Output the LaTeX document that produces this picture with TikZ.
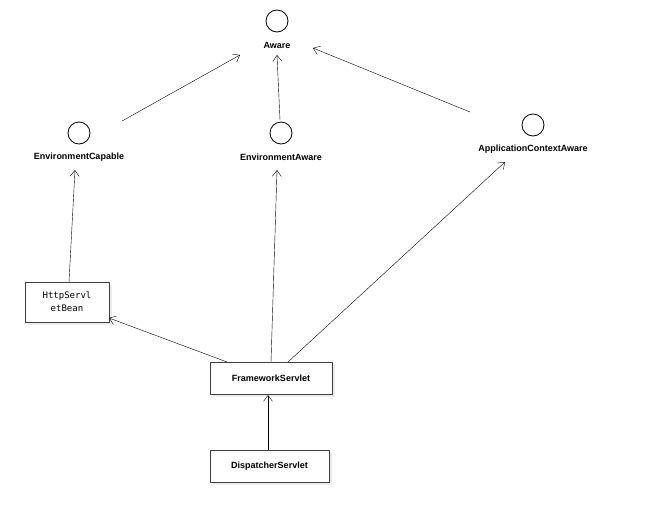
\documentclass[tikz,border=0pt]{standalone}
\usepackage{fontspec}
\setmainfont{Liberation Sans}
\newfontfamily\monof{DejaVu Sans Mono}
\usetikzlibrary{arrows.meta,shadows}
\begin{document}
\begin{tikzpicture}[x=1pt,y=-1pt,
 iface/.style={circle,draw,thick,minimum size=22pt,inner sep=0pt},
 lbl/.style={font=\bfseries\fontsize{9}{10}\selectfont,inner sep=1pt},
 cls/.style={draw,thick,draw=black!75,fill=white,drop shadow={shadow xshift=3pt,shadow yshift=-3pt,fill=black!8,opacity=1},inner sep=0pt},
 arr/.style={-{Straight Barb[length=6pt,width=9pt]},thin}]
\useasboundingbox (0,0) rectangle (656,522);
\node[iface] (aw) at (277,21) {};
\node[lbl] (awl) at (277,45) {Aware};
\node[iface] (ec) at (79,133) {};
\node[lbl] (ecl) at (79,157) {EnvironmentCapable};
\node[iface] (ea) at (281,133) {};
\node[lbl] (eal) at (281,157) {EnvironmentAware};
\node[iface] (ac) at (533,125) {};
\node[lbl] (acl) at (533,149) {ApplicationContextAware};
\node[cls,minimum width=84pt,minimum height=40pt,align=center,font=\monof\fontsize{9}{13}\selectfont] (hb) at (67,302) {HttpServl\\etBean};
\node[cls,minimum width=122pt,minimum height=32pt,font=\bfseries\fontsize{9}{10}\selectfont] (fs) at (271,378) {FrameworkServlet};
\node[cls,minimum width=119pt,minimum height=32pt,font=\bfseries\fontsize{9}{10}\selectfont] (ds) at (269.5,466) {DispatcherServlet};
\coordinate (a1) at (122,121); \coordinate (a1e) at (240,55);
\coordinate (a2) at (280,120); \coordinate (a2e) at (277,55);
\coordinate (a3) at (470,112); \coordinate (a3e) at (313,48);
\draw[arr] (a1) -- (a1e);
\draw[arr] (a2) -- (a2e);
\draw[arr] (a3) -- (a3e);
\draw[arr] (hb.north -| 69,0) ++(0,0) coordinate (h1) (69,282) -- (75,170);
\draw[arr] (271,362) -- (277,170);
\draw[arr] (288,362) -- (505,162);
\draw[arr] (227,362) -- (109,318);
\draw[arr] (ds.north -| 268,0) (268,450) -- (268,395);
\end{tikzpicture}
\end{document}
